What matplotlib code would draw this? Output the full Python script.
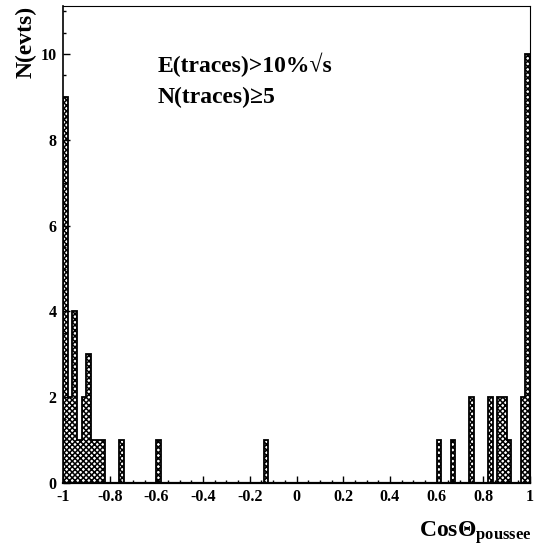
import numpy as np
import matplotlib
matplotlib.use('Agg')
import matplotlib.pyplot as plt
from matplotlib.ticker import MultipleLocator, FuncFormatter

# histogramme cos(theta) de la poussee, bins de 0.02
bin_centers = [-0.99, -0.97, -0.95, -0.93, -0.91, -0.89, -0.87, -0.85, -0.83,
               -0.75, -0.59, -0.13,
               0.61, 0.67, 0.75, 0.83, 0.87, 0.89, 0.91, 0.97, 0.99]
counts = [9, 2, 4, 1, 2, 3, 1, 1, 1,
          1, 1, 1,
          1, 1, 2, 2, 2, 2, 1, 2, 10]
x_ticks = [-1, -0.8, -0.6, -0.4, -0.2, 0, 0.2, 0.4, 0.6, 0.8, 1]
y_ticks = [0, 2, 4, 6, 8, 10]

plt.rcParams['font.family'] = ['Liberation Serif', 'DejaVu Serif']
plt.rcParams['font.weight'] = 'bold'
plt.rcParams['axes.unicode_minus'] = False
plt.rcParams['mathtext.fontset'] = 'custom'
plt.rcParams['mathtext.rm'] = 'Liberation Serif:bold'
plt.rcParams['mathtext.it'] = 'Liberation Serif:bold'
plt.rcParams['mathtext.bf'] = 'Liberation Serif:bold'
plt.rcParams['hatch.linewidth'] = 1.1

fig = plt.figure(figsize=(5.34, 5.49), dpi=100)
ax = fig.add_axes([63 / 534, 1 - 483 / 549, 467 / 534, 477 / 549])

edges = np.linspace(-1, 1, 101)
ax.hist(bin_centers, bins=edges, weights=counts, histtype='stepfilled',
        facecolor='white', edgecolor='black', hatch='xxxxxx', linewidth=1.3)

ax.set_xlim(-1, 1)
ax.set_ylim(0, 11.12)

ax.set_xticks(x_ticks)
ax.set_yticks(y_ticks)
ax.xaxis.set_minor_locator(MultipleLocator(0.05))
ax.yaxis.set_minor_locator(MultipleLocator(0.5))
ax.xaxis.set_major_formatter(FuncFormatter(lambda v, p: '%g' % v))
ax.tick_params(which='both', direction='in', top=False, right=False,
               labelsize=11.5)
ax.tick_params(axis='x', pad=4.5)
ax.tick_params(axis='y', pad=4.5)
ax.tick_params(which='major', length=5, width=1)
ax.tick_params(which='minor', length=2.5, width=1)
for lab in ax.get_xticklabels() + ax.get_yticklabels():
    lab.set_fontweight('bold')

for s in ['top', 'right']:
    ax.spines[s].set_linewidth(0.8)
ax.spines['left'].set_linewidth(1.2)
ax.spines['bottom'].set_linewidth(1.6)

# titres des axes
fig.text(26 / 534, 1 - 6 / 549, 'N(evts)', rotation=90, ha='center', va='top',
         fontsize=17, fontweight='bold')
fig.text(532 / 534, 1 - 537 / 549, r'$\mathrm{Cos\Theta_{poussee}}$',
         ha='right', va='baseline', fontsize=17)

ax.text(0.202, 0.862, 'E(traces)>10%\u221as', transform=ax.transAxes,
        fontsize=17, fontweight='bold', va='baseline')
ax.text(0.202, 0.797, 'N(traces)\u22655', transform=ax.transAxes,
        fontsize=17, fontweight='bold', va='baseline')

fig.savefig('out.png', dpi=100)
